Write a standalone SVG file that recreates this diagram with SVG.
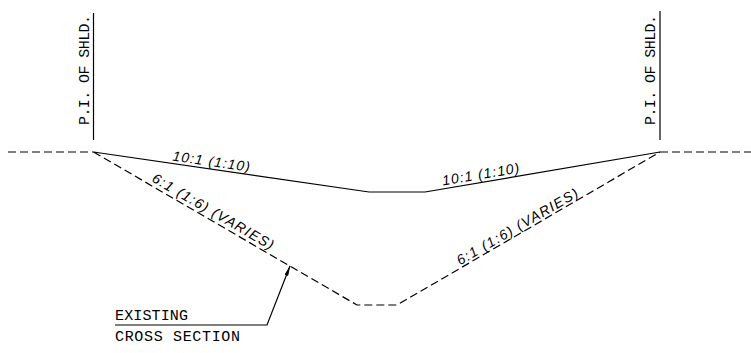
<svg xmlns="http://www.w3.org/2000/svg" width="751" height="353" viewBox="0 0 751 353">
<style>
.ln{fill:none;stroke:#000;stroke-width:1.2}
.dash{fill:none;stroke:#000;stroke-width:1.2;stroke-dasharray:8 4}
.t{font-family:"Liberation Mono","Courier New",monospace;fill:#000;font-size:15px}
.it{font-family:"Liberation Sans",Arial,sans-serif;font-style:italic;fill:#000;font-size:14px}
</style>
<defs>
<marker id="ah" viewBox="0 0 10 4" refX="10" refY="2" markerWidth="10" markerHeight="4" markerUnits="userSpaceOnUse" orient="auto">
<path d="M0,0 L10,2 L0,4 Z" fill="#000"/>
</marker>
</defs>
<rect width="751" height="353" fill="#fff"/>
<g id="left-shoulder">
<line class="ln" x1="93.5" y1="13" x2="93.5" y2="140"/>
<text class="t" transform="translate(88.5,125) rotate(-90)" textLength="110" lengthAdjust="spacing">P.I. OF SHLD.</text>
</g>
<g id="right-shoulder">
<line class="ln" x1="660" y1="11" x2="660" y2="140"/>
<text class="t" transform="translate(655,125) rotate(-90)" textLength="110" lengthAdjust="spacing">P.I. OF SHLD.</text>
</g>
<g id="connectors">
<line class="dash" x1="8" y1="152" x2="93.5" y2="152"/>
<line class="dash" x1="660" y1="152" x2="751" y2="152"/>
<polyline class="ln" points="93.5,152 369,192 425,192 660,152"/>
<polyline class="dash" points="93.5,152 357,305 397,305 660,152"/>
<polyline class="ln" points="115,325 267,325 290,266" marker-end="url(#ah)"/>
</g>
<g id="slope-labels">
<text class="it" transform="translate(172,160.5) rotate(8.25)" textLength="78" lengthAdjust="spacing">10:1  (1:10)</text>
<text class="it" transform="translate(443,185.5) rotate(-9.66)" textLength="78" lengthAdjust="spacing">10:1  (1:10)</text>
<text class="it" transform="translate(151,181) rotate(30.1)" textLength="138" lengthAdjust="spacing">6:1  (1:6)  (VARIES)</text>
<text class="it" transform="translate(460,265.5) rotate(-30.2)" textLength="138" lengthAdjust="spacing">6:1  (1:6)  (VARIES)</text>
</g>
<g id="existing-label">
<text class="t" x="115" y="320" textLength="73" lengthAdjust="spacing">EXISTING</text>
<text class="t" x="115" y="341" textLength="125" lengthAdjust="spacing">CROSS SECTION</text>
</g>
</svg>
